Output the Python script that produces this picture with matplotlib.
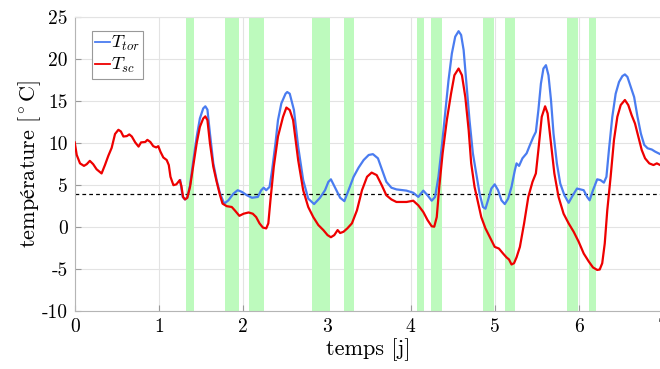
import numpy as np
import matplotlib
matplotlib.use("Agg")
import matplotlib.pyplot as plt

plt.rcParams['font.family'] = ['cmr10', 'STIXGeneral']
plt.rcParams['mathtext.fontset'] = 'cm'
plt.rcParams['axes.unicode_minus'] = False

# T_sc (red)
t_sc = [0.00, 0.024, 0.063, 0.11, 0.143, 0.18, 0.22, 0.26, 0.32, 0.36, 0.40, 0.44, 0.48,
        0.52, 0.55, 0.58, 0.62, 0.65, 0.68, 0.72, 0.76, 0.79, 0.84, 0.865, 0.90, 0.935,
        0.97, 0.995, 1.02, 1.055, 1.095, 1.12, 1.14, 1.175, 1.21, 1.25, 1.27, 1.29, 1.313,
        1.34, 1.373, 1.41, 1.452, 1.49, 1.53, 1.555, 1.58, 1.61, 1.65, 1.69, 1.73, 1.76,
        1.81, 1.87, 1.91, 1.96, 2.01, 2.07, 2.12, 2.16, 2.20, 2.24, 2.28, 2.305, 2.33, 2.37,
        2.42, 2.48, 2.52, 2.56, 2.60, 2.66, 2.72, 2.78, 2.84, 2.90, 2.96, 3.01, 3.05, 3.09,
        3.13, 3.16, 3.20, 3.245, 3.30, 3.36, 3.42, 3.48, 3.535, 3.595, 3.655, 3.71, 3.77,
        3.83, 3.91, 3.95, 4.03, 4.09, 4.15, 4.20, 4.25, 4.28, 4.31, 4.34, 4.38, 4.43, 4.48,
        4.52, 4.57, 4.61, 4.65, 4.69, 4.72, 4.76, 4.80, 4.84, 4.89, 4.94, 5.00, 5.05, 5.10,
        5.14, 5.17, 5.20, 5.23, 5.26, 5.30, 5.35, 5.40, 5.45, 5.49, 5.52, 5.56, 5.60, 5.63,
        5.67, 5.71, 5.76, 5.82, 5.88, 5.94, 6.00, 6.06, 6.12, 6.17, 6.22, 6.25, 6.28, 6.31,
        6.34, 6.38, 6.42, 6.46, 6.50, 6.55, 6.59, 6.63, 6.67, 6.71, 6.75, 6.79, 6.84, 6.89,
        6.93, 6.97, 7.00]
T_sc = [10.1, 8.6, 7.6, 7.3, 7.5, 7.9, 7.5, 6.9, 6.4, 7.4, 8.5, 9.45, 11.1,
        11.6, 11.4, 10.8, 10.85, 11.05, 10.8, 10.1, 9.6, 10.1, 10.15, 10.4, 10.15, 9.65,
        9.5, 9.65, 9.0, 8.3, 8.0, 7.4, 6.0, 5.0, 5.1, 5.6, 4.9, 3.6, 3.3,
        3.5, 4.8, 7.2, 10.0, 11.95, 12.95, 13.2, 12.75, 10.0, 7.2, 5.4, 3.8, 2.8,
        2.5, 2.4, 1.95, 1.35, 1.6, 1.75, 1.6, 1.2, 0.45, -0.05, -0.15, 0.45, 3.2, 7.2,
        10.8, 13.15, 14.25, 13.95, 12.75, 8.0, 4.4, 2.4, 1.2, 0.25, -0.35, -0.95, -1.2, -0.95,
        -0.35, -0.7, -0.55, -0.15, 0.45, 2.0, 4.4, 6.0, 6.5, 6.2, 5.0, 3.8, 3.3,
        3.0, 3.0, 3.0, 3.15, 2.6, 1.8, 0.85, 0.1, 0.05, 1.2, 4.8, 8.8, 12.75, 15.9,
        18.1, 18.9, 18.1, 15.5, 11.55, 7.6, 4.8, 3.0, 1.2, -0.15, -1.15, -2.35, -2.55, -3.15,
        -3.6, -3.85, -4.45, -4.3, -3.6, -2.35, 0.45, 3.6, 5.4, 6.4, 9.2, 13.15, 14.4, 13.55,
        10.0, 6.4, 3.6, 1.6, 0.45, -0.55, -1.75, -3.15, -4.1, -4.8, -5.1, -5.05, -4.3, -1.95,
        2.0, 6.0, 10.4, 13.15, 14.55, 15.15, 14.55, 13.35, 12.35, 10.75, 9.2, 8.2, 7.6, 7.4,
        7.6, 7.4, 7.45]

# T_tor (blue)
t_tor = [1.256, 1.285, 1.313, 1.34, 1.373, 1.41, 1.452, 1.49, 1.53, 1.555, 1.58, 1.61, 1.65,
         1.69, 1.73, 1.78, 1.83, 1.89, 1.94, 1.99, 2.05, 2.11, 2.18, 2.22, 2.25, 2.28, 2.32,
         2.35, 2.39, 2.42, 2.46, 2.51, 2.53, 2.56, 2.61, 2.66, 2.72, 2.78, 2.85, 2.92, 2.98,
         3.02, 3.05, 3.10, 3.16, 3.21, 3.26, 3.32, 3.38, 3.44, 3.50, 3.55, 3.61, 3.66, 3.71,
         3.77, 3.83, 3.91, 3.95, 4.03, 4.09, 4.15, 4.20, 4.25, 4.29, 4.33, 4.37, 4.41, 4.45,
         4.49, 4.53, 4.57, 4.60, 4.63, 4.66, 4.70, 4.74, 4.78, 4.82, 4.86, 4.89, 4.92, 4.96,
         5.00, 5.04, 5.08, 5.12, 5.16, 5.20, 5.24, 5.26, 5.29, 5.33, 5.38, 5.42, 5.46, 5.49,
         5.52, 5.55, 5.58, 5.61, 5.64, 5.67, 5.70, 5.74, 5.78, 5.83, 5.88, 5.93, 5.98, 6.02,
         6.06, 6.10, 6.13, 6.17, 6.22, 6.26, 6.30, 6.33, 6.36, 6.40, 6.44, 6.48, 6.52, 6.55,
         6.58, 6.62, 6.66, 6.70, 6.74, 6.78, 6.82, 6.87, 6.91, 6.97, 7.00]
T_tor = [5.6, 3.6, 3.3, 3.5, 5.0, 7.8, 10.75, 12.95, 14.15, 14.4, 14.0, 11.15, 7.6,
         5.6, 4.0, 2.8, 3.2, 4.0, 4.4, 4.2, 3.8, 3.5, 3.6, 4.4, 4.7, 4.4, 4.8,
         6.8, 10.0, 12.75, 14.75, 15.9, 16.1, 15.9, 13.95, 9.6, 5.6, 3.4, 2.75, 3.5, 4.4,
         5.4, 5.7, 4.7, 3.5, 3.1, 4.4, 6.0, 7.1, 8.0, 8.6, 8.7, 8.2, 6.8, 5.4,
         4.7, 4.5, 4.4, 4.35, 4.1, 3.6, 4.35, 3.8, 3.15, 3.6, 6.0, 9.6, 13.55, 17.5,
         20.7, 22.7, 23.35, 22.9, 21.1, 17.5, 12.75, 8.8, 6.4, 4.0, 2.4, 2.2, 3.2, 4.6,
         5.1, 4.4, 3.2, 2.75, 3.4, 4.8, 6.8, 7.6, 7.3, 8.2, 8.8, 9.8, 10.75, 11.35,
         13.95, 17.1, 18.9, 19.3, 18.1, 15.15, 11.15, 7.6, 5.2, 3.8, 2.9, 3.8, 4.6, 4.5,
         4.4, 3.6, 3.2, 4.4, 5.7, 5.6, 5.3, 6.0, 9.2, 13.15, 15.9, 17.3, 18.0, 18.2,
         17.9, 16.7, 15.5, 13.15, 11.15, 9.8, 9.4, 9.25, 9.0, 8.7, 8.7]

# green periods (start, end) in days
band_start = [1.325, 1.793, 2.079, 2.83, 3.205, 4.077, 4.242, 4.865, 5.119, 5.864, 6.119]
band_end = [1.417, 1.956, 2.25, 3.04, 3.33, 4.163, 4.37, 4.996, 5.245, 5.995, 6.202]

threshold = 4
x_ticks = [0, 1, 2, 3, 4, 5, 6, 7]
y_ticks = [-10, -5, 0, 5, 10, 15, 20, 25]

fig = plt.figure(figsize=(6.6, 3.69), dpi=100)
ax = fig.add_axes([0.1132, 0.157, 0.8909, 0.796])

for a, b in zip(band_start, band_end):
    ax.axvspan(a, b, color='#bdfabd', lw=0, zorder=1)

ax.axhline(threshold, color='black', ls='--', lw=0.9, dashes=(3, 2.5), zorder=2)
ax.plot(t_tor, T_tor, color='#4a7cf0', lw=1.6, label='$T_{tor}$', zorder=3)
ax.plot(t_sc, T_sc, color='#ee0000', lw=1.6, label='$T_{sc}$', zorder=4)

ax.set_xlim(0, 7)
ax.set_ylim(-10, 25)
ax.set_xticks(x_ticks)
ax.set_xticklabels([str(v) for v in x_ticks])
ax.set_yticks(y_ticks)
ax.set_yticklabels([str(v) for v in y_ticks])
ax.grid(True, color='#e3e3e3', lw=0.8)
ax.set_axisbelow(True)
ax.tick_params(direction='in', length=4, color='#999999', labelsize=14, pad=5)
for s in ['left', 'bottom', 'top', 'right']:
    ax.spines[s].set_color('#b5b5b5')
ax.spines['top'].set_color('#e3e3e3')

ax.set_xlabel('temps [j]', fontsize=16, labelpad=2)
ax.set_ylabel('$\\mathrm{température}\\ [^\\circ\\mathrm{C}]$', fontsize=16, labelpad=-1)

leg = ax.legend(loc='upper left', bbox_to_anchor=(0.0289, 0.955), fontsize=13,
                handlelength=0.8, handletextpad=0.05, borderpad=0.2,
                labelspacing=0.15, fancybox=False, framealpha=1, borderaxespad=0)
leg.get_frame().set_edgecolor('#999999')
leg.get_frame().set_linewidth(0.8)
for ln in leg.get_lines():
    ln.set_linewidth(1.3)

fig.savefig('out.png', dpi=100)
